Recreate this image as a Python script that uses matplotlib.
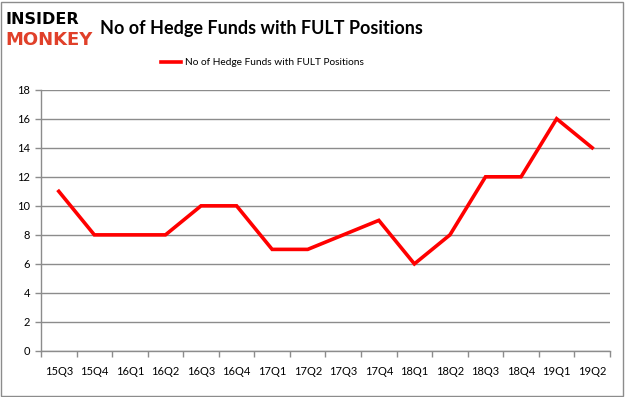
import matplotlib
matplotlib.use("Agg")
import matplotlib.pyplot as plt
from matplotlib.patches import Rectangle

quarters = ["15Q3", "15Q4", "16Q1", "16Q2", "16Q3", "16Q4", "17Q1", "17Q2",
            "17Q3", "17Q4", "18Q1", "18Q2", "18Q3", "18Q4", "19Q1", "19Q2"]
funds = [11, 8, 8, 8, 10, 10, 7, 7, 8, 9, 6, 8, 12, 12, 16, 14]
yticks = [0, 2, 4, 6, 8, 10, 12, 14, 16, 18]
series_name = "No of Hedge Funds with FULT Positions"

plt.rcParams['font.family'] = ['Lato', 'DejaVu Sans']

fig = plt.figure(figsize=(6.26, 3.97), dpi=100)
fig.patch.set_facecolor("white")
fig.add_artist(Rectangle((0.002, 0.003), 0.994, 0.993, transform=fig.transFigure,
                         fill=False, edgecolor="#8c8c8c", linewidth=1.0))

ax = fig.add_axes([0.0655, 0.1159, 0.9089, 0.6581])
x = list(range(len(quarters)))
line, = ax.plot(x, funds, color="#ff0000", linewidth=2.6, solid_joinstyle="miter",
                label=series_name)

ax.set_xlim(-0.5, len(quarters) - 0.5)
ax.set_ylim(0, 18)
ax.set_yticks(yticks)
ax.set_yticklabels([str(v) for v in yticks], fontsize=8)
ax.set_xticks(x)
ax.set_xticklabels(quarters, fontsize=8)
ax.tick_params(axis="x", length=0, pad=11)
ax.set_xticks([i - 0.5 for i in range(len(quarters) + 1)], minor=True)
ax.tick_params(axis="x", which="minor", length=4, color="#8c8c8c", width=1, direction="out")
ax.tick_params(axis="y", length=4, color="#8c8c8c", width=1, pad=4)
ax.grid(axis="y", color="#8c8c8c", linewidth=1)
ax.set_axisbelow(True)
for s in ["top", "right"]:
    ax.spines[s].set_visible(False)
for s in ["left", "bottom"]:
    ax.spines[s].set_color("#8c8c8c")
    ax.spines[s].set_linewidth(1)

fig.text(0.16, 0.928, "No of Hedge Funds with FULT Positions", fontsize=13,
         fontweight="bold", ha="left", va="center", color="black")
fig.text(0.008, 0.952, "INSIDER", fontsize=11.5, fontweight="heavy", ha="left",
         va="center", color="black", family="DejaVu Sans")
fig.text(0.008, 0.898, "MONKEY", fontsize=13, fontweight="heavy", ha="left",
         va="center", color="#e0402a", family="DejaVu Sans")

fig.legend(handles=[line], loc="center", bbox_to_anchor=(0.419, 0.842), frameon=False,
           fontsize=7.3, handlelength=2.0, handletextpad=0.3)

fig.savefig("out.png", dpi=100)
